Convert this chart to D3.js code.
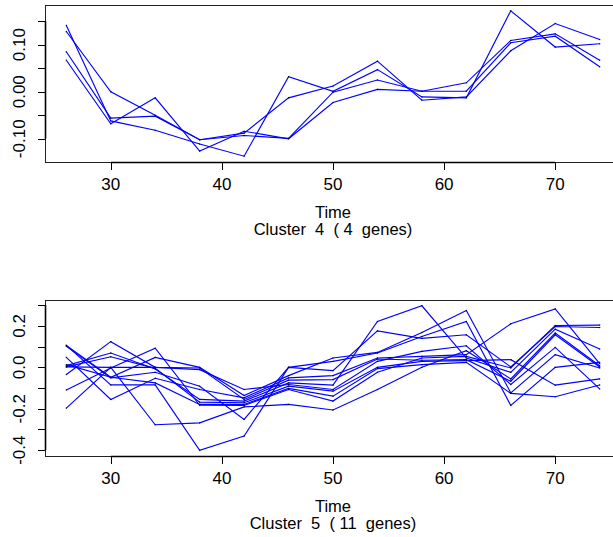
<!DOCTYPE html>
<html>
<head>
<meta charset="utf-8">
<script src="https://cdn.jsdelivr.net/npm/d3@7"></script>
<style>
  html, body { margin: 0; padding: 0; background: #fff; }
  svg { display: block; }
  text { font-family: "Liberation Sans", Arial, Helvetica, sans-serif; fill: #000; white-space: pre; }
</style>
</head>
<body>
<script>
// Sampling times shared by both clusters
const times = [26, 30, 34, 38, 42, 46, 50, 54, 58, 62, 66, 70, 74];

// Cluster 4: expression profiles of 4 genes
const cluster4 = [
  [0.141, -0.062, -0.082, -0.111, -0.137, 0.032, 0.001, 0.047, -0.011, -0.013, 0.172, 0.095, 0.102],
  [0.128, 0.000, -0.050, -0.102, -0.088, -0.013, 0.012, 0.065, -0.018, -0.011, 0.087, 0.145, 0.111],
  [0.085, -0.056, -0.052, -0.102, -0.093, -0.099, -0.001, 0.025, 0.001, 0.019, 0.109, 0.123, 0.067],
  [0.067, -0.068, -0.013, -0.126, -0.084, -0.100, -0.023, 0.005, 0.001, 0.001, 0.104, 0.118, 0.053]
];

// Cluster 5: expression profiles of 11 genes
const cluster5 = [
  [0.106, -0.048, 0.048, 0.000, -0.136, -0.040, 0.045, 0.072, 0.168, 0.274, -0.123, 0.061, -0.003],
  [0.106, -0.085, -0.085, -0.400, -0.332, 0.000, -0.016, 0.176, 0.140, 0.157, 0.002, 0.197, 0.192],
  [0.101, -0.051, -0.024, -0.091, -0.251, 0.000, 0.029, 0.069, 0.149, 0.221, -0.184, 0.000, 0.024],
  [0.048, -0.155, -0.053, -0.107, -0.147, -0.051, -0.040, 0.045, 0.053, 0.061, 0.210, 0.282, 0.018],
  [-0.035, 0.124, 0.000, -0.003, -0.155, -0.062, -0.059, 0.040, 0.034, 0.037, -0.067, 0.157, 0.002],
  [0.008, 0.069, -0.008, -0.155, -0.163, -0.075, -0.086, 0.221, 0.297, 0.045, -0.024, 0.184, 0.088],
  [0.002, 0.000, 0.000, -0.011, -0.107, -0.083, -0.107, 0.029, 0.077, 0.104, -0.083, 0.096, -0.104],
  [0.002, 0.051, -0.005, -0.168, -0.171, -0.091, -0.115, 0.000, 0.029, 0.032, 0.037, -0.086, -0.056],
  [0.013, -0.048, -0.075, -0.179, -0.179, -0.102, -0.139, -0.006, 0.013, 0.024, -0.126, -0.142, -0.085],
  [-0.109, -0.003, 0.092, -0.183, -0.184, -0.107, -0.163, -0.024, 0.045, 0.053, -0.003, 0.202, 0.204],
  [-0.197, 0.000, -0.277, -0.268, -0.191, -0.179, -0.206, -0.107, 0.000, 0.080, -0.056, 0.165, 0.008]
];

// Axis ticks and labels
const xTicks = [30, 40, 50, 60, 70];
const yTicks4 = [-0.10, -0.05, 0.00, 0.05, 0.10, 0.15];
const yLabelValues4 = [-0.10, 0.00, 0.10];
const yLabels4 = ["-0.10", "0.00", "0.10"];
const yTicks5 = [-0.4, -0.3, -0.2, -0.1, 0.0, 0.1, 0.2, 0.3];
const yLabelValues5 = [-0.4, -0.2, 0.0, 0.2];
const yLabels5 = ["-0.4", "-0.2", "0.0", "0.2"];

const xTitle = "Time";
const titles = ["Cluster  4  ( 4  genes)", "Cluster  5  ( 11  genes)"];

const W = 613, H = 537;
const svg = d3.select("body").append("svg").attr("width", W).attr("height", H);

// Pad a data extent by 4% on each side
function padded(ext) {
  const d = (ext[1] - ext[0]) * 0.04;
  return [ext[0] - d, ext[1] + d];
}

const plotLeft = 45, plotRight = 621;
const x = d3.scaleLinear().domain(padded(d3.extent(times))).range([plotLeft, plotRight]);

function panel(series, top, bottom, yTicks, yLabelValues, yLabels, title) {
  const all = series.flat();
  const y = d3.scaleLinear().domain(padded(d3.extent(all))).range([bottom, top]);
  const g = svg.append("g");

  // frame
  g.append("rect")
    .attr("x", plotLeft + 0.5).attr("y", top + 0.5)
    .attr("width", plotRight - plotLeft).attr("height", bottom - top)
    .attr("fill", "none").attr("stroke", "#222").attr("stroke-width", 1);

  // x axis
  const xa = g.append("g");
  xa.append("line")
    .attr("x1", x(xTicks[0])).attr("x2", x(xTicks[xTicks.length - 1]))
    .attr("y1", bottom + 0.5).attr("y2", bottom + 0.5)
    .attr("stroke", "#000").attr("stroke-width", 1.6);
  xa.selectAll("line.tick").data(xTicks).enter().append("line")
    .attr("class", "tick")
    .attr("x1", d => Math.round(x(d)) + 0.5).attr("x2", d => Math.round(x(d)) + 0.5)
    .attr("y1", bottom).attr("y2", bottom + 8)
    .attr("stroke", "#000").attr("stroke-width", 1);
  xa.selectAll("text").data(xTicks).enter().append("text")
    .attr("x", d => x(d)).attr("y", bottom + 28)
    .attr("text-anchor", "middle").attr("font-size", 17)
    .text(d => d);

  // y axis
  const ya = g.append("g");
  ya.append("line")
    .attr("x1", plotLeft + 0.5).attr("x2", plotLeft + 0.5)
    .attr("y1", y(yTicks[0])).attr("y2", y(yTicks[yTicks.length - 1]))
    .attr("stroke", "#000").attr("stroke-width", 1.6);
  ya.selectAll("line.tick").data(yTicks).enter().append("line")
    .attr("class", "tick")
    .attr("x1", plotLeft - 7).attr("x2", plotLeft)
    .attr("y1", d => Math.round(y(d)) + 0.5).attr("y2", d => Math.round(y(d)) + 0.5)
    .attr("stroke", "#000").attr("stroke-width", 1);
  ya.selectAll("text").data(yLabelValues).enter().append("text")
    .attr("transform", d => `translate(25,${y(d)}) rotate(-90)`)
    .attr("text-anchor", "middle").attr("font-size", 17)
    .text((d, i) => yLabels[i]);

  // gene profiles
  const line = d3.line().x((d, i) => x(times[i])).y(d => y(d));
  g.append("g").selectAll("path").data(series).enter().append("path")
    .attr("d", line)
    .attr("fill", "none").attr("stroke", "#0000ff").attr("stroke-width", 1.15)
    .attr("stroke-linejoin", "miter");

  // vertex markers
  const pts = [];
  series.forEach(s => s.forEach((v, i) => pts.push([times[i], v])));
  g.append("g").selectAll("rect").data(pts).enter().append("rect")
    .attr("x", d => x(d[0]) - 0.6).attr("y", d => y(d[1]) - 0.6)
    .attr("width", 1.2).attr("height", 1.2).attr("fill", "#000040");

  // titles
  const cx = (plotLeft + plotRight) / 2;
  g.append("text").attr("x", cx).attr("y", bottom + 56)
    .attr("text-anchor", "middle").attr("font-size", 16.5).text(xTitle);
  g.append("text").attr("x", cx).attr("y", bottom + 73)
    .attr("text-anchor", "middle").attr("font-size", 16.5).text(title);
}

panel(cluster4, 5, 162, yTicks4, yLabelValues4, yLabels4, titles[0]);
panel(cluster5, 300, 456, yTicks5, yLabelValues5, yLabels5, titles[1]);
</script>
</body>
</html>
